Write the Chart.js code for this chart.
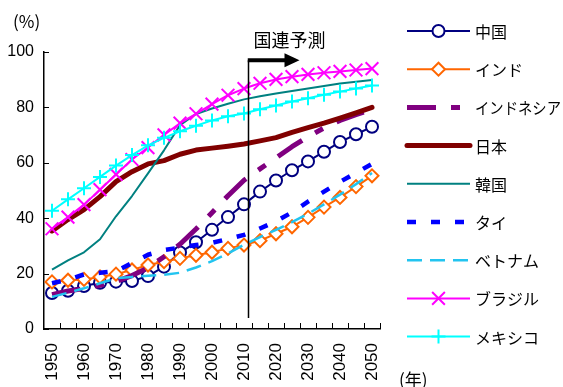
<!DOCTYPE html>
<html>
<head>
<meta charset="utf-8">
<script src="https://cdn.jsdelivr.net/npm/chart.js@4.4.0/dist/chart.umd.min.js"></script>
<style>
  html, body { margin: 0; padding: 0; background: #ffffff; }
  #wrap { width: 563px; height: 387px; position: relative; }
</style>
</head>
<body>
<div id="wrap"><canvas id="c" width="563" height="387"></canvas></div>
<script>
// 都市人口比率 (%) 1950–2050年
const years = ['1950','1955','1960','1965','1970','1975','1980','1985','1990','1995','2000',
               '2005','2010','2015','2020','2025','2030','2035','2040','2045','2050'];
const yTickValues = [0, 20, 40, 60, 80, 100];

const seriesNames = ['中国','インド','インドネシア','日本','韓国','タイ','ベトナム','ブラジル','メキシコ'];

const china     = [13.0,13.8,15.5,16.7,17.1,17.3,19.1,22.5,27.6,31.3,35.8,40.4,45.0,49.6,53.6,57.3,60.5,64.0,67.5,70.3,73.0];
const india     = [17.0,17.6,17.9,18.8,19.8,21.3,23.1,24.3,25.5,26.6,27.7,29.1,30.3,31.9,34.4,36.9,40.3,44.0,47.5,51.4,55.3];
const indonesia = [12.4,13.7,14.6,15.8,17.1,19.3,22.1,26.1,30.6,36.1,42.0,48.1,53.7,57.8,61.8,65.8,69.4,72.6,75.3,77.4,79.2];
const japan     = [35.4,39.5,43.1,47.8,53.2,56.8,59.6,60.8,63.1,64.6,65.3,66.0,66.8,67.9,69.1,71.0,72.7,74.3,76.1,78.0,80.0];
const korea     = [21.4,24.8,27.7,32.4,40.7,48.0,56.2,64.5,73.6,77.6,79.6,81.3,82.9,84.0,85.0,85.9,86.8,87.7,88.6,89.3,89.9];
const thailand  = [16.5,17.8,19.7,20.3,20.9,23.8,26.8,28.5,29.4,30.3,31.1,32.5,34.0,36.3,38.9,42.1,46.0,49.6,53.1,56.4,59.6];
const vietnam   = [11.6,13.1,14.7,16.5,18.3,18.8,19.2,19.6,20.3,22.2,24.5,27.3,30.4,33.2,35.8,38.6,41.6,45.0,48.5,52.3,56.3];
const brazil    = [36.2,40.4,44.9,50.3,55.8,61.2,65.5,70.1,74.3,77.7,81.2,84.4,86.8,88.7,90.1,91.1,91.9,92.5,93.0,93.5,94.0];
const mexico    = [42.7,46.8,50.8,54.9,59.0,62.8,66.3,69.0,71.4,73.4,75.3,76.8,77.8,79.3,80.7,82.1,83.3,84.6,85.7,86.8,87.9];

// 国連予測の開始位置（カテゴリ index と次カテゴリへの割合）
const forecastYear = '2010';
const forecastShift = 0.25;

const FONT_NUM = '"Liberation Sans", Arial, sans-serif';
const FONT_JP = '"Noto Sans CJK JP", "Noto Sans", sans-serif';

function line(label, data, color, extra) {
  return Object.assign({
    label: label,
    data: data,
    borderColor: color,
    backgroundColor: color,
    borderWidth: 2,
    fill: false,
    tension: 0,
    pointRadius: 0,
    pointHoverRadius: 0,
    pointStyle: false,
    pointBackgroundColor: '#ffffff',
    pointBorderColor: color,
    pointBorderWidth: 2,
    borderCapStyle: 'butt',
    borderJoinStyle: 'round'
  }, extra || {});
}

const datasets = [
  line(seriesNames[0], china, '#000080', { pointStyle: 'circle', pointRadius: 6 }),
  line(seriesNames[1], india, '#FF6600', { pointStyle: 'rectRot', pointRadius: 6.5 }),
  line(seriesNames[2], indonesia, '#800080', { borderWidth: 5, borderDash: [29, 15, 9, 15] }),
  line(seriesNames[3], japan, '#800000', { borderWidth: 5, borderCapStyle: 'round' }),
  line(seriesNames[4], korea, '#008080', { borderWidth: 2 }),
  line(seriesNames[5], thailand, '#0000FF', { borderWidth: 4.5, borderDash: [9, 15] }),
  line(seriesNames[6], vietnam, '#22C4F0', { borderWidth: 2.5, borderDash: [15, 8] }),
  line(seriesNames[7], brazil, '#FF00FF', { pointStyle: 'crossRot', pointRadius: 9, pointBackgroundColor: '#FF00FF' }),
  line(seriesNames[8], mexico, '#00FFFF', { pointStyle: 'cross', pointRadius: 7, pointBackgroundColor: '#00FFFF' })
];
// 後の系列ほど手前に描く
datasets.forEach((d, i) => { d.order = datasets.length - i; });

const decor = {
  id: 'decor',
  afterDraw(chart) {
    const ctx = chart.ctx;
    const xs = chart.scales.x;
    const ys = chart.scales.y;
    const area = chart.chartArea;

    ctx.save();
    // 内向きの目盛り線
    ctx.strokeStyle = '#000';
    ctx.lineWidth = 1;
    yTickValues.forEach(v => {
      const py = Math.round(ys.getPixelForValue(v)) + 0.5;
      ctx.beginPath();
      ctx.moveTo(area.left, py);
      ctx.lineTo(area.left + 5, py);
      ctx.stroke();
    });
    const n = years.length;
    const step = (area.right - area.left) / n;
    for (let i = 1; i <= n; i++) {
      const px = Math.round(area.left + i * step) + 0.5;
      ctx.beginPath();
      ctx.moveTo(px, area.bottom);
      ctx.lineTo(px, area.bottom - 6);
      ctx.stroke();
    }

    // 国連予測の区切り線と矢印
    const fi = years.indexOf(forecastYear);
    const x0 = xs.getPixelForValue(fi);
    const x1 = xs.getPixelForValue(fi + 1);
    const fx = Math.round(x0 + forecastShift * (x1 - x0)) + 0.5;
    const topY = ys.getPixelForValue(97);
    const botY = ys.getPixelForValue(4);
    ctx.lineWidth = 1.5;
    ctx.beginPath();
    ctx.moveTo(fx, topY);
    ctx.lineTo(fx, botY);
    ctx.stroke();

    ctx.lineWidth = 4;
    ctx.beginPath();
    ctx.moveTo(fx - 0.75, topY);
    ctx.lineTo(fx + 38, topY);
    ctx.stroke();
    ctx.fillStyle = '#000';
    ctx.beginPath();
    ctx.moveTo(fx + 36, topY - 7);
    ctx.lineTo(fx + 51, topY);
    ctx.lineTo(fx + 36, topY + 7);
    ctx.closePath();
    ctx.fill();

    ctx.font = '18px ' + FONT_JP;
    ctx.textAlign = 'center';
    ctx.textBaseline = 'middle';
    ctx.fillText('国連予測', fx + 41, topY - 20);

    // 単位表示
    ctx.font = '17px ' + FONT_JP;
    ctx.textAlign = 'left';
    ctx.fillText('(%)', 13, 22);
    ctx.fillText('(年)', 399, 380);

    // 凡例
    const lx0 = 407, lx1 = 470, tx = 475, rowY = 31, dy = 38.2;
    chart.data.datasets.forEach((ds, i) => {
      const y = rowY + i * dy;
      ctx.save();
      ctx.strokeStyle = ds.borderColor;
      ctx.lineWidth = ds.borderWidth;
      ctx.lineCap = ds.borderCapStyle || 'butt';
      ctx.setLineDash(ds.borderDash || []);
      ctx.beginPath();
      ctx.moveTo(lx0, y);
      ctx.lineTo(lx1, y);
      ctx.stroke();
      ctx.setLineDash([]);
      if (ds.pointStyle && ds.pointRadius > 0) {
        ctx.fillStyle = ds.pointBackgroundColor;
        ctx.strokeStyle = ds.pointBorderColor;
        ctx.lineWidth = ds.pointBorderWidth;
        Chart.helpers.drawPoint(ctx, {
          pointStyle: ds.pointStyle,
          radius: ds.pointRadius,
          rotation: 0,
          borderWidth: ds.pointBorderWidth
        }, (lx0 + lx1) / 2, y);
      }
      ctx.restore();
      ctx.fillStyle = '#000';
      ctx.font = '16px ' + FONT_JP;
      ctx.textAlign = 'left';
      ctx.textBaseline = 'middle';
      ctx.fillText(ds.label, tx, y + 1, 86);
    });
    ctx.restore();
  }
};

new Chart(document.getElementById('c'), {
  type: 'line',
  data: { labels: years, datasets: datasets },
  options: {
    responsive: false,
    animation: false,
    devicePixelRatio: 1,
    events: [],
    layout: { padding: { left: 0, right: 183, top: 52, bottom: 0 } },
    plugins: {
      legend: { display: false },
      tooltip: { enabled: false },
      title: { display: false }
    },
    scales: {
      x: {
        type: 'category',
        offset: true,
        grid: { display: false, drawTicks: false, drawOnChartArea: false },
        border: { display: true, color: '#000', width: 1.5 },
        ticks: {
          autoSkip: false,
          maxRotation: 90,
          minRotation: 90,
          padding: 14,
          color: '#000',
          font: { family: FONT_NUM, size: 17 },
          callback: (v, i) => (i % 2 === 0 ? years[i] : '')
        },
        afterFit: s => { s.height = 58; }
      },
      y: {
        min: 0,
        max: 100,
        grid: { display: false, drawTicks: false, drawOnChartArea: false },
        border: { display: true, color: '#000', width: 1.5 },
        ticks: {
          stepSize: 20,
          padding: 10,
          color: '#000',
          font: { family: FONT_NUM, size: 16 }
        },
        afterFit: s => { s.width = 44; }
      }
    }
  },
  plugins: [decor]
});
</script>
</body>
</html>
